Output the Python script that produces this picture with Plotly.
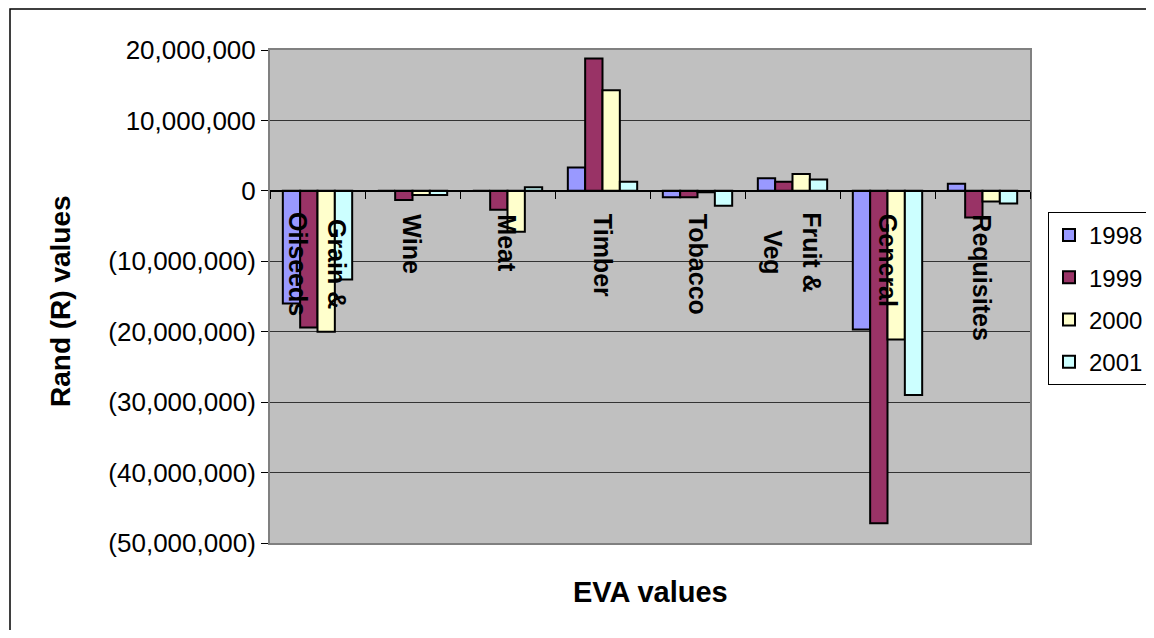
import plotly.graph_objects as go

categories = ["Grain & Oilseeds", "Wine", "Meat", "Timber", "Tobacco", "Fruit & Veg", "General", "Requisites"]
label_lines = [["Grain &", "Oilseeds"], ["Wine"], ["Meat"], ["Timber"], ["Tobacco"], ["Fruit &", "Veg"], ["General"], ["Requisites"]]
years = ["1998", "1999", "2000", "2001"]
v1998 = [-16000000, 0, 0, 3300000, -900000, 1800000, -19700000, 1000000]
v1999 = [-19400000, -1300000, -2700000, 18800000, -900000, 1300000, -47200000, -3800000]
v2000 = [-20000000, -600000, -5800000, 14300000, -200000, 2400000, -21100000, -1500000]
v2001 = [-12600000, -600000, 500000, 1300000, -2100000, 1600000, -29000000, -1800000]
colors = ["#9999FF", "#993366", "#FFFFCC", "#CCFFFF"]
tick_vals = [20000000, 10000000, 0, -10000000, -20000000, -30000000, -40000000, -50000000]
tick_text = ["20,000,000", "10,000,000", "0", "(10,000,000)", "(20,000,000)", "(30,000,000)", "(40,000,000)", "(50,000,000)"]

FONT = "Liberation Sans, Arial, sans-serif"
ymin, ymax = -50000000, 20000000
LBL_SIZE = 25

# page has an 8px body margin; plot area in page pixels: x 270..1030, y 50..543
OFF = 8
PX0, PX1, PY0, PY1 = 270, 1030, 50, 543
FIG_W, FIG_H = 1154 - OFF, 638 - 2 * OFF

# approximate bold Arial advance widths (em) used only to centre multi-line labels
W = {"G": .778, "r": .389, "a": .556, "i": .278, "n": .611, " ": .278, "&": .722, "O": .778,
     "l": .278, "s": .556, "e": .556, "d": .611, "F": .611, "u": .611, "t": .333, "V": .667,
     "g": .611}


def text_len(s):
    return sum(W.get(c, .6) for c in s) * LBL_SIZE


def px(x):
    return (x - PX0) / (PX1 - PX0)


def py(y):
    return (PY1 - y) / (PY1 - PY0)


fig = go.Figure()
for yr, vals, col in zip(years, [v1998, v1999, v2000, v2001], colors):
    fig.add_trace(go.Bar(x=categories, y=vals, name=yr, legendgroup=yr,
                         marker=dict(color=col, line=dict(color="black", width=2))))

# helper trace for the category axis drawn along zero
fig.add_trace(go.Scatter(x=[-0.5, 7.5], y=[None, None], xaxis="x2", showlegend=False,
                         hoverinfo="skip", mode="lines"))

annotations = []
for cat, lines in zip(categories, label_lines):
    n = len(lines)
    if n == 1:
        annotations.append(dict(x=cat, y=0, xref="x", yref="y", text="<b>%s</b>" % lines[0],
                                textangle=90, showarrow=False, xanchor="center", yanchor="top",
                                yshift=-21,
                                font=dict(family=FONT, size=LBL_SIZE, color="black")))
    else:
        lmax = max(text_len(s) for s in lines)
        for i, ln in enumerate(lines):
            annotations.append(dict(x=cat, y=0, xref="x", yref="y", text="<b>%s</b>" % ln,
                                    textangle=90, showarrow=False, xanchor="center",
                                    yanchor="middle", yshift=-(21 + lmax / 2),
                                    xshift=((n - 1) / 2 - i) * 39,
                                    font=dict(family=FONT, size=LBL_SIZE, color="black")))
annotations.append(dict(x=0.5, y=py(592), xref="paper", yref="paper",
                        text="<b>EVA values</b>", showarrow=False,
                        xanchor="center", yanchor="middle",
                        font=dict(family=FONT, size=29, color="black")))
annotations.append(dict(x=px(60), y=py(301), xref="paper", yref="paper",
                        text="<b>Rand (R) values</b>", showarrow=False, textangle=-90,
                        xanchor="center", yanchor="middle",
                        font=dict(family=FONT, size=28, color="black")))

fig.update_layout(
    width=FIG_W, height=FIG_H,
    margin=dict(l=PX0 - OFF, r=FIG_W - (PX1 - OFF), t=PY0 - OFF, b=FIG_H - (PY1 - OFF),
                pad=0, autoexpand=False),
    paper_bgcolor="white", plot_bgcolor="#C0C0C0",
    barmode="group", bargap=0.27, bargroupgap=0,
    font=dict(family=FONT, size=26, color="black"),
    xaxis=dict(showticklabels=False, ticks="", showgrid=False, zeroline=False,
               showline=True, linecolor="#808080", linewidth=2, mirror=True,
               range=[-0.5, 7.5]),
    xaxis2=dict(overlaying="x", anchor="free", position=(0 - ymin) / (ymax - ymin),
                type="linear", range=[-0.5, 7.5],
                tickvals=[i - 0.5 for i in range(9)], showticklabels=False,
                ticks="outside", ticklen=7, tickcolor="black", tickwidth=1,
                showline=True, linecolor="black", linewidth=1.5, showgrid=False,
                zeroline=False),
    yaxis=dict(range=[ymin, ymax], tickvals=tick_vals, ticktext=tick_text,
               ticks="outside", ticklen=7, tickcolor="black", tickwidth=1,
               showline=True, linecolor="#808080", linewidth=2, mirror=True,
               showgrid=True, gridcolor="#333333", gridwidth=1, zeroline=False,
               tickfont=dict(family=FONT, size=26, color="black")),
    legend=dict(x=px(1048), y=py(212), xanchor="left", yanchor="top",
                bgcolor="white", bordercolor="black", borderwidth=1,
                tracegroupgap=8, font=dict(family=FONT, size=24, color="black")),
    showlegend=True,
    annotations=annotations,
    shapes=[dict(type="rect", xref="paper", yref="paper",
                 x0=px(10), x1=1.3, y0=-0.4, y1=py(9),
                 line=dict(color="black", width=1.5), fillcolor="rgba(0,0,0,0)", layer="below")],
)

fig.write_html("out.html")
